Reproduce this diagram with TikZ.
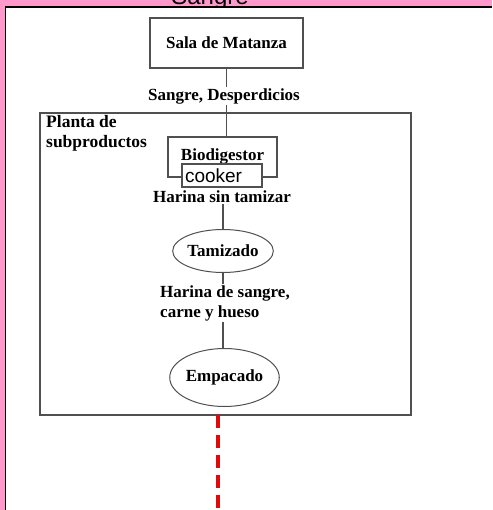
\documentclass[tikz,border=0pt]{standalone}
\usepackage{fontspec}
\setmainfont{Liberation Serif}
\newfontfamily\arialf{Liberation Sans}
\usetikzlibrary{shapes.geometric}
\definecolor{pinkbg}{RGB}{255,153,204}
\definecolor{boxgray}{RGB}{80,80,80}
\definecolor{dashred}{RGB}{225,10,10}
\begin{document}
\begin{tikzpicture}[x=1pt,y=-1pt,
  every node/.style={font=\fontsize{17}{20}\selectfont\bfseries, inner sep=0pt},
  box/.style={draw=boxgray, line width=1.2pt, fill=white},
  oval/.style={ellipse, draw=boxgray, line width=1pt, fill=white},
  lbl/.style={fill=white, inner sep=1pt},
  link/.style={draw=boxgray, line width=1.1pt}]
\useasboundingbox (0,0) rectangle (492,510);
\clip (0,0) rectangle (492,510);
\fill[pinkbg] (0,0) rectangle (492,510);
\node[font=\arialf\fontsize{24}{24}\selectfont, anchor=base] (title) at (210,5) {Sangre};
\fill[white] (6,7) rectangle (492,510);
\draw[black, line width=1.6pt] (5.6,510) -- (5.6,6.8) -- (492,6.8);
% outer plant box
\node[draw=boxgray, line width=1.2pt, minimum width=371pt, minimum height=302pt] (planta) at (225.5,264) {};
\node[anchor=north west, align=left, font=\fontsize{17.5}{20}\selectfont\bfseries] (plantalbl) at (46,115) {Planta de\\subproductos};
% nodes
\node[box, minimum width=153pt, minimum height=50pt] (sala) at (226.5,43) {Sala de Matanza};
\node[lbl] (sd) at (224,96) {Sangre, Desperdicios};
\node[box, minimum width=109pt, minimum height=40pt, text depth=5pt] (bio) at (222.5,157) {Biodigestor};
\node[box, minimum width=80pt, minimum height=23pt, font=\arialf\fontsize{19}{19}\selectfont, text width=74pt, align=left] (cooker) at (222,175.5) {cooker};
\node[lbl] (hst) at (222,197) {Harina sin tamizar};
\node[oval, minimum width=97pt, minimum height=43pt] (tam) at (223,251) {Tamizado};
\node[lbl, anchor=west, align=left] (hds) at (159,303) {Harina de sangre,\\carne y hueso};
\node[oval, minimum width=101pt, minimum height=58pt] (emp) at (224.5,377.5) {Empacado};
% connectors
\draw[link] (sala.south) -- (sala.south |- sd.north);
\draw[link] (sd.south -| sala.south) -- (bio.north -| sala.south);
\draw[link] (hst.south -| tam.north) -- (tam.north);
\draw[link] (tam.south) -- (tam.south |- hds.north);
\draw[link] (hds.south -| tam.south) -- (emp.north -| tam.south);
\coordinate (r1) at (218,415);
\coordinate (r2) at (218,512);
\draw[dashred, line width=4.5pt, dash pattern=on 13pt off 7pt] (r1) -- (r2);
\end{tikzpicture}
\end{document}
